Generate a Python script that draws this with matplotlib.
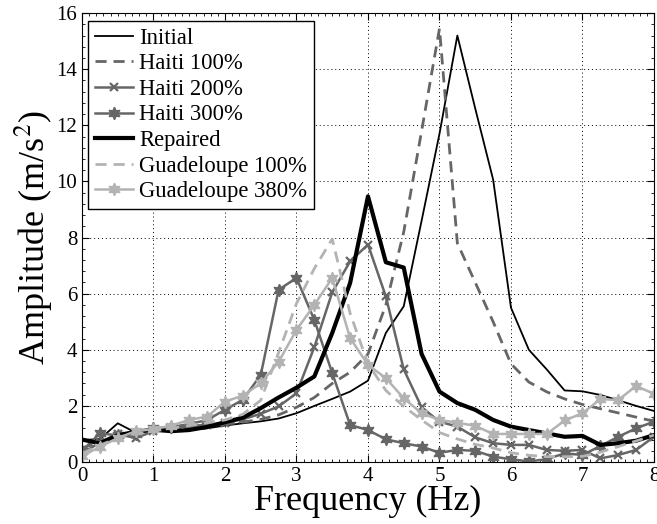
import numpy as np
import matplotlib
matplotlib.use("Agg")
import matplotlib.pyplot as plt
from matplotlib.ticker import MultipleLocator, AutoMinorLocator

plt.rcParams['font.family'] = ['Liberation Serif', 'DejaVu Serif']
plt.rcParams['mathtext.fontset'] = 'stix'

freq = np.arange(0, 8.01, 0.25)

initial = [0.78, 0.82, 1.38, 1.05, 1.12, 1.12, 1.15, 1.2, 1.3, 1.38, 1.45, 1.55,
           1.74, 2.0, 2.25, 2.51, 2.9, 4.6, 5.55, 8.6, 11.7, 15.2, 12.6, 10.07,
           5.5, 4.0, 3.3, 2.55, 2.52, 2.39, 2.2, 2.0, 1.82]
haiti100 = [0.5, 0.7, 0.9, 1.05, 1.12, 1.18, 1.22, 1.28, 1.35, 1.42, 1.52, 1.68,
            1.95, 2.3, 2.8, 3.2, 3.85, 5.6, 8.2, 11.8, 15.45, 7.8, 6.4, 5.0,
            3.5, 2.85, 2.5, 2.25, 2.05, 1.9, 1.75, 1.6, 1.45]
haiti200 = [0.3, 0.7, 1.0, 0.85, 1.1, 1.2, 1.28, 1.33, 1.4, 1.52, 1.72, 1.98,
            2.45, 4.1, 6.05, 7.15, 7.75, 5.9, 3.3, 1.95, 1.44, 1.26, 0.88, 0.67,
            0.61, 0.61, 0.43, 0.4, 0.43, 0.13, 0.25, 0.43, 0.9]
haiti300 = [0.4, 1.02, 0.95, 1.0, 1.2, 1.25, 1.35, 1.5, 1.86, 2.22, 3.1, 6.14,
            6.56, 5.06, 3.17, 1.32, 1.14, 0.81, 0.67, 0.55, 0.33, 0.43, 0.4, 0.19,
            0.1, 0.02, 0.1, 0.31, 0.25, 0.57, 0.9, 1.2, 1.44]
repaired = [0.8, 0.67, 0.95, 1.08, 1.15, 1.1, 1.14, 1.25, 1.42, 1.58, 1.92, 2.3,
            2.65, 3.05, 4.6, 6.38, 9.47, 7.12, 6.93, 3.85, 2.51, 2.1, 1.86, 1.5,
            1.26, 1.14, 1.02, 0.9, 0.93, 0.61, 0.67, 0.76, 0.96]
guad100 = [0.3, 0.6, 0.85, 1.0, 1.1, 1.2, 1.3, 1.4, 1.5, 1.7, 2.2, 3.9,
           5.65, 6.9, 7.95, 5.3, 3.5, 2.55, 1.98, 1.5, 1.05, 0.82, 0.63, 0.5,
           0.33, 0.24, 0.19, 0.19, 0.2, 0.35, 0.55, 0.75, 0.96]
guad380 = [0.2, 0.55, 0.85, 1.1, 1.17, 1.3, 1.5, 1.62, 2.15, 2.37, 2.8, 3.57,
           4.71, 5.6, 6.56, 4.42, 3.46, 2.99, 2.27, 1.74, 1.5, 1.4, 1.29, 1.0,
           1.0, 1.0, 1.0, 1.48, 1.74, 2.24, 2.21, 2.71, 2.43]

labels = ['Initial', 'Haiti 100%', 'Haiti 200%', 'Haiti 300%', 'Repaired',
          'Guadeloupe 100%', 'Guadeloupe 380%']

dark = '#666666'
light = '#b3b3b3'
hexagram = (6, 1, 0)

fig = plt.figure(figsize=(6.57, 5.24), dpi=100)
ax = fig.add_axes([0.1248, 0.1183, 0.8706, 0.8567])

ax.plot(freq, initial, color='black', lw=1.3, label=labels[0])
ax.plot(freq, haiti100, color=dark, lw=2.0, ls=(0, (4, 2.5)), label=labels[1])
ax.plot(freq, haiti200, color=dark, lw=1.8, marker='x', ms=6, mew=1.6, label=labels[2])
ax.plot(freq, haiti300, color=dark, lw=1.8, marker=hexagram, ms=9, mew=1.0, label=labels[3])
ax.plot(freq, repaired, color='black', lw=3.0, label=labels[4])
ax.plot(freq, guad100, color=light, lw=2.0, ls=(0, (4, 2.5)), label=labels[5])
ax.plot(freq, guad380, color=light, lw=1.8, marker=hexagram, ms=9, mew=1.0, label=labels[6])

ax.set_xlim(0, 8)
ax.set_ylim(0, 16)
ax.xaxis.set_major_locator(MultipleLocator(1))
ax.yaxis.set_major_locator(MultipleLocator(2))
ax.xaxis.set_minor_locator(AutoMinorLocator(10))
ax.yaxis.set_minor_locator(AutoMinorLocator(5))
ax.tick_params(which='both', direction='in', top=True, right=True, labelsize=15)
ax.tick_params(which='major', length=5)
ax.tick_params(which='minor', length=2.5)
ax.grid(True, which='major', ls=(0, (1, 3)), color='black', lw=0.7)

ax.set_xlabel('Frequency (Hz)', fontsize=26, labelpad=-1)
ax.set_ylabel('Amplitude (m/s$^2$)', fontsize=26, labelpad=1)

leg = ax.legend(loc='upper left', bbox_to_anchor=(6 / 572, 1 - 8 / 449),
                borderaxespad=0, fontsize=16.3, frameon=True, fancybox=False,
                edgecolor='black', framealpha=1, handlelength=1.7,
                handletextpad=0.25, labelspacing=0.2, borderpad=0.3)
leg.get_frame().set_linewidth(1.0)

fig.savefig('out.png', dpi=100)
